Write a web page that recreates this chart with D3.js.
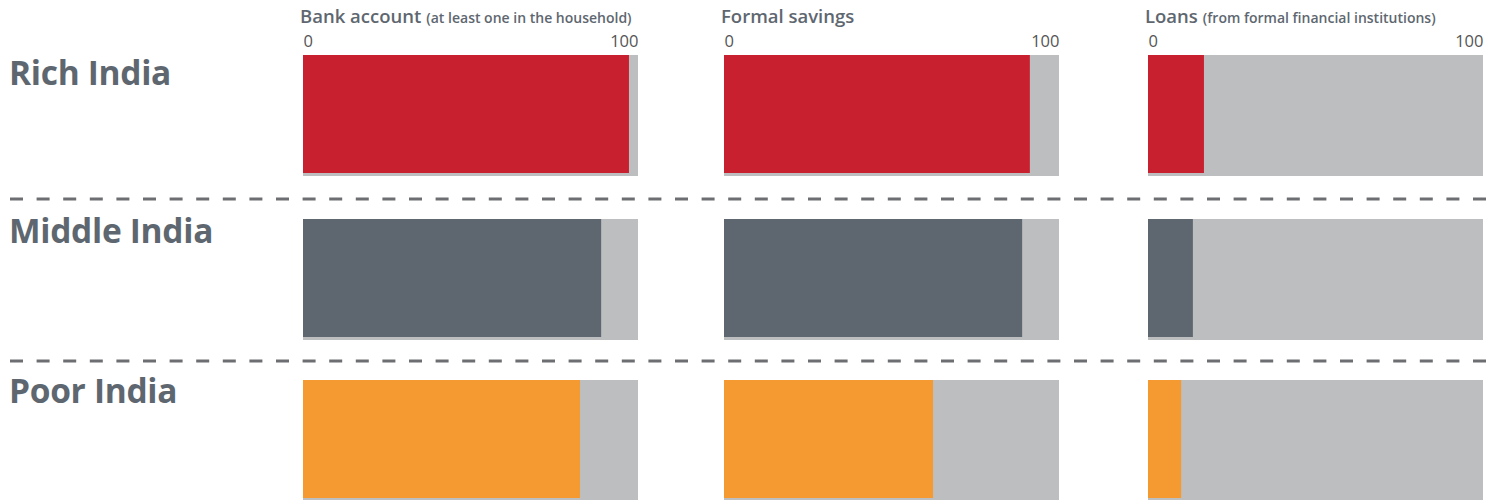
<!DOCTYPE html>
<html><head><meta charset="utf-8">
<script src="https://cdn.jsdelivr.net/npm/d3@7"></script>
<style>body{margin:0;background:#fff}svg{display:block}</style>
</head><body>
<script>
const groups = ["Rich India", "Middle India", "Poor India"];
const measures = ["Bank account", "Formal savings", "Loans"];
const measureNotes = ["(at least one in the household)", "", "(from formal financial institutions)"];
const bankAccount = [97.3, 89.0, 82.7];
const formalSavings = [91.3, 89.0, 62.4];
const loans = [16.7, 13.4, 9.9];
const tickLabels = [0, 100];
const groupColors = ["#c8202f", "#5e6770", "#f59a31"];

const W = 1499, H = 500;
const svg = d3.select("body").append("svg").attr("width", W).attr("height", H);
const values = [bankAccount, formalSavings, loans];
const panelX = [303, 724, 1148], panelW = 335;
const rowY = [55, 219, 380], rowH = 121;
const labelBase = [85, 243, 403];
const textCol = "#5e6770";
const font = "'Open Sans', 'Noto Sans', sans-serif";

// row labels
groups.forEach((g, i) => {
  svg.append("text").attr("x", 9).attr("y", labelBase[i])
    .attr("font-family", font).attr("font-weight", 700).attr("font-size", 33.5)
    .attr("fill", textCol).attr("letter-spacing", -0.3).text(g);
});
// dashed separators
[199, 361].forEach(y => {
  svg.append("line").attr("x1", 10).attr("x2", 1486).attr("y1", y).attr("y2", y)
    .attr("stroke", "#6d6e71").attr("stroke-width", 3).attr("stroke-dasharray", "13,13.6");
});

measures.forEach((m, j) => {
  const x = d3.scaleLinear().domain([0, 100]).range([panelX[j], panelX[j] + panelW]);
  const t = svg.append("text").attr("x", panelX[j] - 3).attr("y", 23)
    .attr("font-family", font).attr("fill", textCol);
  t.append("tspan").attr("font-size", 18.5).attr("font-weight", 600).text(m);
  if (measureNotes[j]) t.append("tspan").attr("font-size", 14).attr("font-weight", 600).attr("dx", 5).text(measureNotes[j]);
  // axis ticks labels
  const ax = d3.axisTop(x).tickValues(tickLabels).tickSize(0).tickPadding(0);
  const g = svg.append("g").attr("transform", "translate(0,47)").call(ax);
  g.select(".domain").remove();
  g.selectAll("text").attr("font-family", font).attr("font-size", 16.5).attr("fill", "#555")
    .attr("text-anchor", (d) => d === 0 ? "start" : "end").attr("dy", 0);

  groups.forEach((grp, i) => {
    svg.append("rect").attr("x", x(0)).attr("y", rowY[i]).attr("width", x(100) - x(0)).attr("height", rowH)
      .attr("fill", "#bdbec0");
    svg.append("rect").attr("x", x(0)).attr("y", rowY[i]).attr("width", x(values[j][i]) - x(0)).attr("height", rowH - 3)
      .attr("fill", groupColors[i]);
  });
});
</script>
</body></html>
